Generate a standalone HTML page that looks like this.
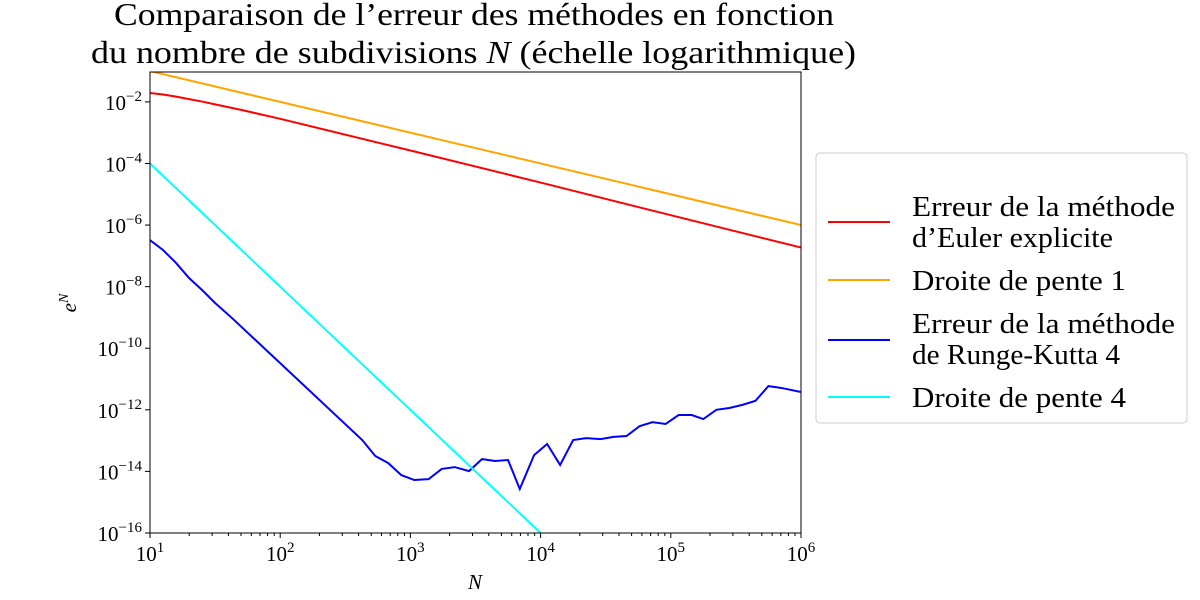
<!DOCTYPE html>
<html><head><meta charset="utf-8"><style>
html,body{margin:0;background:#fff;overflow:hidden;width:1200px;height:600px}
svg{display:block}
svg text{font-family:"Liberation Serif","DejaVu Serif",serif;fill:#000}
</style></head><body>
<svg id="chart" width="1200" height="600" xmlns="http://www.w3.org/2000/svg">
<text x="114" y="25" font-size="32" textLength="720" lengthAdjust="spacingAndGlyphs">Comparaison de l’erreur des méthodes en fonction</text>
<text x="91" y="63" font-size="32" textLength="765" lengthAdjust="spacingAndGlyphs">du nombre de subdivisions <tspan font-style="italic">N</tspan> (échelle logarithmique)</text>
<g id="axes"></g>
<text x="475" y="589" font-size="21" font-style="italic" text-anchor="middle">N</text>
<text transform="translate(76,303) rotate(-90)" font-size="21" font-style="italic" text-anchor="middle">e<tspan font-size="14" dy="-8">N</tspan></text>
<g>
<rect x="816" y="153" width="371" height="270" rx="4" fill="#fff" stroke="#ccc"/>
<line x1="828" y1="222" x2="890" y2="222" stroke="#ff0000" stroke-width="2"/>
<text x="912" y="216" font-size="29" textLength="263" lengthAdjust="spacingAndGlyphs">Erreur de la méthode</text>
<text x="912" y="247" font-size="29" textLength="201" lengthAdjust="spacingAndGlyphs">d’Euler explicite</text>
<line x1="828" y1="280" x2="890" y2="280" stroke="#ffa500" stroke-width="2"/>
<text x="912" y="290" font-size="29" textLength="214" lengthAdjust="spacingAndGlyphs">Droite de pente 1</text>
<line x1="828" y1="340" x2="890" y2="340" stroke="#0000ff" stroke-width="2"/>
<text x="912" y="333" font-size="29" textLength="263" lengthAdjust="spacingAndGlyphs">Erreur de la méthode</text>
<text x="912" y="364" font-size="29" textLength="208" lengthAdjust="spacingAndGlyphs">de Runge-Kutta 4</text>
<line x1="828" y1="397" x2="890" y2="397" stroke="#00ffff" stroke-width="2"/>
<text x="912" y="407" font-size="29" textLength="214" lengthAdjust="spacingAndGlyphs">Droite de pente 4</text>
</g>
</svg>
<script>
const rkLogN=[1,1.1,1.2,1.3,1.4,1.5,1.63,2.63,2.73,2.83,2.93,3.03,3.14,3.24,3.34,3.45,3.55,3.65,3.75,3.84,3.95,4.05,4.15,4.25,4.35,4.46,4.56,4.66,4.76,4.86,4.96,5.06,5.16,5.25,5.35,5.45,5.55,5.65,5.75,5.85,6];
const rkLogErr=[-6.49,-6.81,-7.23,-7.72,-8.11,-8.53,-9.02,-12.98,-13.5,-13.73,-14.12,-14.28,-14.25,-13.92,-13.86,-13.99,-13.6,-13.66,-13.63,-14.57,-13.47,-13.11,-13.79,-12.98,-12.92,-12.95,-12.88,-12.85,-12.53,-12.4,-12.46,-12.17,-12.17,-12.3,-12.0,-11.94,-11.84,-11.71,-11.23,-11.29,-11.42];
const eulerLogN=[1,1.1,1.2,1.3,1.4,1.5,1.7,2,3,4,5,6];
const eulerLogErr=[-1.71,-1.76,-1.83,-1.91,-1.99,-2.08,-2.26,-2.55,-3.58,-4.62,-5.68,-6.73];
const slope1Coef=0.1, slope4Coef=1;
const xTicks=[1,2,3,4,5,6];
const yTicks=[-16,-14,-12,-10,-8,-6,-4,-2];
const X0=150,X1=801,Y0=533,Y1=72,XMIN=1,XMAX=6,YMIN=-16,YMAX=-1.03;
const sx=v=>X0+(v-XMIN)/(XMAX-XMIN)*(X1-X0);
const sy=v=>Y0-(v-YMIN)/(YMAX-YMIN)*(Y0-Y1);
const NS="http://www.w3.org/2000/svg";
const g=document.getElementById('axes');
function mk(t,a){const e=document.createElementNS(NS,t);for(const k in a)e.setAttribute(k,a[k]);g.appendChild(e);return e;}
const clip=mk('clipPath',{id:'pc'});
const cr=document.createElementNS(NS,'rect');
cr.setAttribute('x',X0);cr.setAttribute('y',Y1);cr.setAttribute('width',X1-X0);cr.setAttribute('height',Y0-Y1);
clip.appendChild(cr);
function line(xs,ys,color,name){
  const p=mk('polyline',{points:xs.map((x,i)=>sx(x)+','+sy(ys[i])).join(' '),fill:'none',stroke:color,'stroke-width':2,'clip-path':'url(#pc)'});
  
  
}
line(eulerLogN,eulerLogErr,'#ff0000','euler-error-line');
line([1,6],[1,6].map(v=>Math.log10(slope1Coef)-(v-1)),'#ffa500','slope-1-line');
line(rkLogN,rkLogErr,'#0000ff','rk4-error-line');
line([1,6],[1,6].map(v=>Math.log10(slope4Coef)-4-4*(v-1)),'#00ffff','slope-4-line');
const fr=mk('rect',{x:X0,y:Y1,width:X1-X0,height:Y0-Y1,fill:'none',stroke:'#000','stroke-width':1});


xTicks.forEach(v=>{
  mk('line',{x1:sx(v),x2:sx(v),y1:Y0,y2:Y0+5,stroke:'#000'});
  for(let k=2;k<10&&v<6;k++){const xx=sx(v+Math.log10(k));mk('line',{x1:xx,x2:xx,y1:Y0,y2:Y0+3,stroke:'#000'});}
  const t=mk('text',{x:sx(v),y:Y0+28,'font-size':21,'text-anchor':'middle'});
  t.innerHTML='10<tspan font-size="15" dy="-9">'+v+'</tspan>';
  
  
});
yTicks.forEach(v=>{
  mk('line',{x1:X0-5,x2:X0,y1:sy(v),y2:sy(v),stroke:'#000'});
  const t=mk('text',{x:X0-8,y:sy(v)+8,'font-size':21,'text-anchor':'end'});
  t.innerHTML='10<tspan font-size="15" dy="-9">−'+(-v)+'</tspan>';
  
  
});
</script>
</body></html>
